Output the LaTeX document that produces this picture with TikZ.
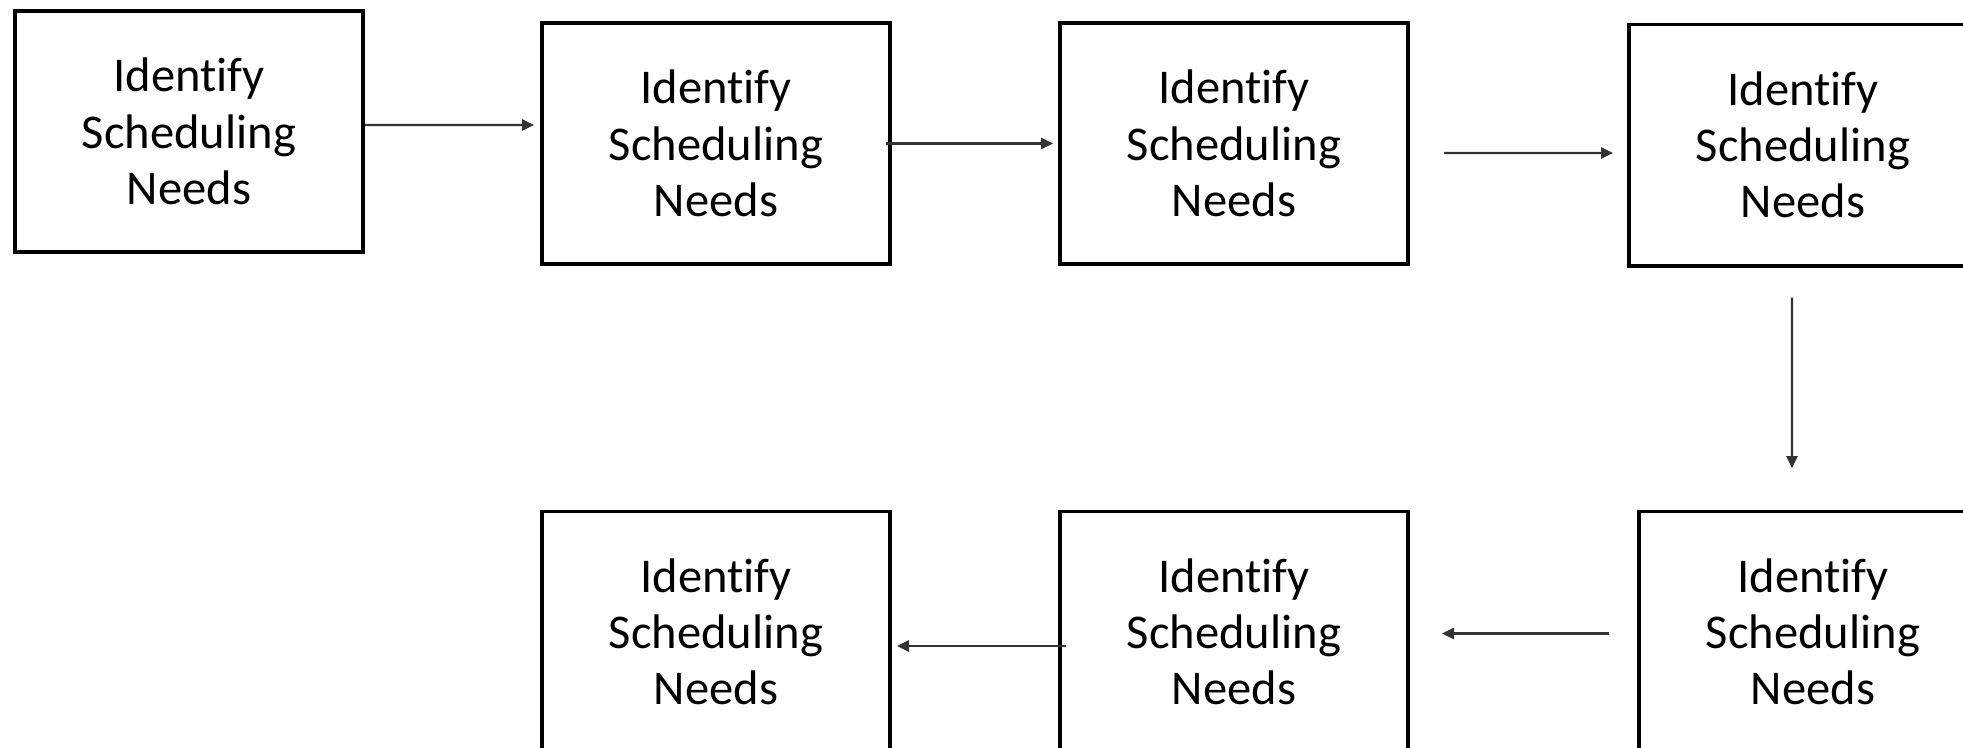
\documentclass[tikz,border=0pt]{standalone}
\usepackage{fontspec}
\setmainfont{Carlito}[Ligatures=NoCommon]
\usetikzlibrary{arrows.meta}
\begin{document}
\begin{tikzpicture}[x=0.01cm,y=-0.01cm,
    box/.style={draw,line width=1.1pt,minimum width=3.48cm,minimum height=2.41cm,
      align=center,font=\fontsize{13.8}{16}\selectfont},
    arr/.style={-{Triangle[length=3.4pt,width=3.2pt]},line width=0.6pt,color=black!80}]
    \useasboundingbox (0,0) rectangle (1963,747);
    \clip (0,0) rectangle (1963,747);
    \foreach \n/\x/\y in {b1/189/131.5,b2/716/143.5,b3/1234/143.5,b4/1803/145,
                          b5/1813/632,b6/1234/632,b7/716/632}{
      \node [box] (\n) at (\x,\y) {Identify\\Scheduling\\Needs};
    }
    \draw [arr] ([yshift=0.065cm]b1.east) -- ([xshift=-0.06cm,yshift=0.185cm]b2.west);
    \draw [arr] ([xshift=-0.06cm]b2.east) -- ([xshift=-0.05cm]b3.west);
    \draw [arr] ([xshift=0.34cm,yshift=-0.095cm]b3.east) -- ([xshift=-0.14cm,yshift=-0.08cm]b4.west);
    \draw [arr] ([xshift=-0.11cm,yshift=-0.30cm]b4.south) -- ([xshift=-0.21cm,yshift=0.415cm]b5.north);
    \draw [arr] ([xshift=-0.28cm,yshift=-0.015cm]b5.west) -- ([xshift=0.32cm,yshift=-0.015cm]b6.east);
    \draw [arr] ([xshift=0.08cm,yshift=-0.14cm]b6.west) -- ([xshift=0.05cm,yshift=-0.14cm]b7.east);
  \end{tikzpicture}
\end{document}
